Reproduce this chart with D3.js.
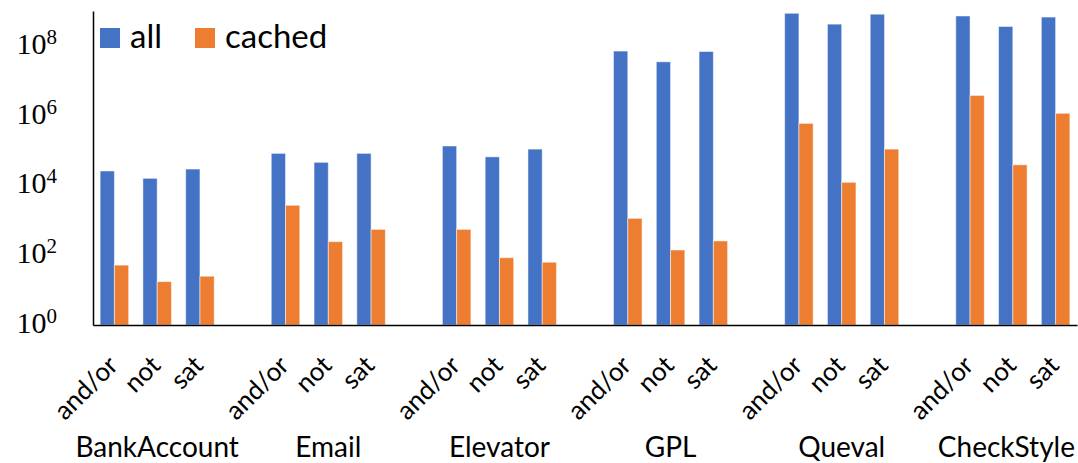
<!DOCTYPE html>
<html>
<head>
<meta charset="utf-8">
<script src="https://cdn.jsdelivr.net/npm/d3@7"></script>
<style>
  body { margin: 0; background: #fff; }
  svg { display: block; }
  text { font-family: Lato, "Noto Sans", sans-serif; fill: #000; }
</style>
</head>
<body>
<script>
var groups = ['BankAccount','Email','Elevator','GPL','Queval','CheckStyle'];
var ops = ['and/or','not','sat'];
var seriesNames = ['all','cached'];
var seriesColors = ['#4472C4','#ED7D31'];

// values per group, in order and/or, not, sat
var allValues = [2.6e4,1.6e4,2.95e4, 8.3e4,4.6e4,8.3e4, 1.35e5,6.6e4,1.1e5,
                 7.1e7,3.5e7,6.9e7, 8.6e8,4.2e8,8.1e8, 7.2e8,3.6e8,6.7e8];
var cachedValues = [52,17.5,25, 2700,245,550, 550,85,63,
                    1140,141,257, 6.0e5,1.23e4,1.1e5, 3.8e6,3.9e4,1.17e6];
var yTicks = [1,1e2,1e4,1e6,1e8];
var yExps = ['0','2','4','6','8'];

var width = 1078, height = 463;
var mLeft = 93, mRight = 1077, mTop = 11, mBottom = 325;

var svg = d3.select('body').append('svg').attr('width',width).attr('height',height);

// slots: 3 ops per group, an empty slot between groups
var slots = [];
var rows = [];
groups.forEach(function(g,gi){
  ops.forEach(function(o,oi){
    var k = g+'|'+o;
    slots.push(k);
    var i = gi*3+oi;
    rows.push({key:k, op:o, group:g, vals:[allValues[i],cachedValues[i]]});
  });
  if(gi < groups.length-1) slots.push('gap'+gi);
});

var x = d3.scaleBand().domain(slots).range([mLeft,mRight]).paddingInner(0).paddingOuter(0);
var bw = x.bandwidth();
var x1 = d3.scaleBand().domain(seriesNames).range([bw/6, bw*5/6]);
var y = d3.scaleLog().domain([1,1e9]).range([mBottom,mTop]);

// bars
var cols = svg.selectAll('g.col').data(rows).enter().append('g')
  .attr('class','col')
  .attr('transform',function(d){return 'translate('+x(d.key)+',0)';});

cols.selectAll('rect').data(function(d){return d.vals;}).enter().append('rect')
  .attr('x',function(d,i){return x1(seriesNames[i]);})
  .attr('y',function(d){return y(d);})
  .attr('width',x1.bandwidth())
  .attr('height',function(d){return mBottom-y(d);})
  .attr('fill',function(d,i){return seriesColors[i];})
  .attr('stroke','rgba(255,255,255,0.5)')
  .attr('stroke-width',1);

// y axis
var yAxis = d3.axisLeft(y).tickValues(yTicks).tickSize(0).tickSizeOuter(0);
var gy = svg.append('g').attr('transform','translate('+mLeft+',0)').call(yAxis);
gy.select('.domain').attr('stroke','#000').attr('stroke-width',1.5);
gy.selectAll('.tick text').each(function(d,i){
  var t = d3.select(this);
  t.text(null)
   .attr('x',-36).attr('y',7.5).attr('dy',null)
   .attr('text-anchor','end')
   .style('font-family','"Liberation Serif", "DejaVu Serif", serif')
   .style('font-size','30px').attr('fill','#000');
  t.append('tspan').text('10');
  t.append('tspan').attr('dy',-10).style('font-size','21px').text(yExps[i]);
});

// x axis
var xAxis = d3.axisBottom(x).tickValues(rows.map(function(d){return d.key;}))
  .tickSize(0).tickSizeOuter(0)
  .tickFormat(function(k){return k.split('|')[1];});
var gx = svg.append('g').attr('transform','translate(0,'+mBottom+')').call(xAxis);
gx.select('.domain').attr('stroke','#000').attr('stroke-width',1.5);
gx.selectAll('.tick text')
  .attr('x',0).attr('y',0).attr('dy',null)
  .attr('text-anchor','end')
  .attr('transform','translate(5,42) rotate(-45)')
  .attr('fill','#000')
  .style('font-family','Lato, "Noto Sans", sans-serif')
  .style('font-size','26px');

// group labels, kept inside the picture
svg.selectAll('text.grp').data(groups).enter().append('text')
  .attr('class','grp')
  .attr('y',457)
  .attr('text-anchor','middle')
  .style('font-size','28px')
  .text(function(g){return g;})
  .attr('x',function(g){
    var cx = x(g+'|not')+bw/2;
    var half = this.getComputedTextLength()/2;
    return Math.min(cx, width-3-half);
  });

// legend
var leg = svg.append('g').attr('transform','translate(100,28)');
var legX = [0,95];
seriesNames.forEach(function(s,i){
  leg.append('rect').attr('x',legX[i]).attr('y',0).attr('width',20).attr('height',20).attr('fill',seriesColors[i]);
  leg.append('text').attr('x',legX[i]+30).attr('y',20).style('font-size','33px').text(s);
});
</script>
</body>
</html>
